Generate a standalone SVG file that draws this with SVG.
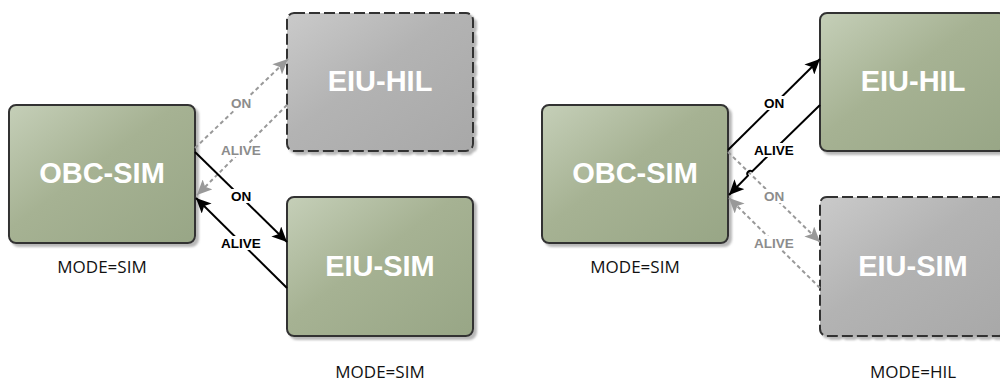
<svg xmlns="http://www.w3.org/2000/svg" width="1000" height="382" viewBox="0 0 1000 382">
  <style>
    .box { stroke: #333333; stroke-width: 2; }
    .active { fill: url(#greenFill); }
    .idle { fill: url(#grayFill); stroke-dasharray: 11 4; }
    .title { font-family: "Liberation Sans", Arial, sans-serif; font-weight: bold; font-size: 29px; fill: #ffffff; text-anchor: middle; }
    .mode { font-family: "Open Sans", "Liberation Sans", sans-serif; font-size: 17px; fill: #111111; text-anchor: middle; }
    .lbl { font-family: "Liberation Sans", Arial, sans-serif; font-weight: bold; font-size: 13.5px; text-anchor: middle; }
    .lbl.on { fill: #000000; }
    .lbl.off { fill: #8c8c8c; }
    .lblbg { fill: #ffffff; }
    .link { fill: none; stroke-width: 2; }
    .link.on { stroke: #000000; marker-end: url(#arrowBlack); }
    .link.off { stroke: #999999; stroke-dasharray: 4 3; marker-end: url(#arrowGray); }
  </style>
  <defs>
    <linearGradient id="greenFill" x1="0" y1="0" x2="1" y2="1">
      <stop offset="0" stop-color="#c5cfb8"/>
      <stop offset="0.45" stop-color="#a6b293"/>
      <stop offset="1" stop-color="#98a686"/>
    </linearGradient>
    <linearGradient id="grayFill" x1="0" y1="0" x2="1" y2="1">
      <stop offset="0" stop-color="#cacaca"/>
      <stop offset="0.45" stop-color="#b3b3b3"/>
      <stop offset="1" stop-color="#a8a8a8"/>
    </linearGradient>
    <filter id="shadow" x="-5%" y="-5%" width="115%" height="115%">
      <feDropShadow dx="3" dy="3" stdDeviation="1.2" flood-color="#9a9a9a" flood-opacity="0.7"/>
    </filter>
    <marker id="arrowBlack" markerUnits="userSpaceOnUse" markerWidth="16" markerHeight="14" viewBox="0 0 16 14" refX="15" refY="7" orient="auto">
      <path d="M0,0 L15,7 L0,14 L3.5,7 z" fill="#000000"/>
    </marker>
    <marker id="arrowGray" markerUnits="userSpaceOnUse" markerWidth="16" markerHeight="14" viewBox="0 0 16 14" refX="15" refY="7" orient="auto">
      <path d="M0,0 L15,7 L0,14 L3.5,7 z" fill="#999999"/>
    </marker>
  </defs>

  <rect width="1000" height="382" fill="#ffffff"/>

  <!-- left scenario: OBC in SIM mode, EIU in SIM mode -->
  <g id="left-obc-sim">
    <rect class="box active" x="9" y="105" width="186" height="138" rx="7" filter="url(#shadow)"/>
    <text class="title" x="102" y="183">OBC-SIM</text>
    <text class="mode" x="102" y="273">MODE=SIM</text>
  </g>
  <g id="left-eiu-hil">
    <rect class="box idle" x="287" y="13" width="186" height="138" rx="7" filter="url(#shadow)"/>
    <text class="title" x="380" y="91">EIU-HIL</text>
  </g>
  <g id="left-eiu-sim">
    <rect class="box active" x="287" y="197" width="186" height="139" rx="7" filter="url(#shadow)"/>
    <text class="title" x="380" y="276">EIU-SIM</text>
    <text class="mode" x="380" y="378">MODE=SIM</text>
  </g>

  <!-- right scenario: OBC in SIM mode, EIU in HIL mode -->
  <g id="right-obc-sim">
    <rect class="box active" x="542" y="105" width="186" height="138" rx="7" filter="url(#shadow)"/>
    <text class="title" x="635" y="183">OBC-SIM</text>
    <text class="mode" x="635" y="273">MODE=SIM</text>
  </g>
  <g id="right-eiu-hil">
    <rect class="box active" x="820" y="13" width="186" height="138" rx="7" filter="url(#shadow)"/>
    <text class="title" x="913" y="91">EIU-HIL</text>
  </g>
  <g id="right-eiu-sim">
    <rect class="box idle" x="820" y="197" width="186" height="139" rx="7" filter="url(#shadow)"/>
    <text class="title" x="913" y="276">EIU-SIM</text>
    <text class="mode" x="913" y="378">MODE=HIL</text>
  </g>

  <g id="connectors">
    <!-- left: inactive HIL link -->
    <path class="link off" d="M195,148 L288,59"/>
    <path class="link off" d="M287,105 L197,195"/>
    <!-- left: active SIM link -->
    <path class="link on" d="M195,152 L287,242"/>
    <path class="link on" d="M287,288 L196,198"/>

    <!-- right: active HIL link, with a hop over the dashed line -->
    <path class="link on" d="M728,150 L820,59"/>
    <path class="link off" d="M728,152 L820,242"/>
    <path class="link off" d="M820,288 L729,198"/>
    <path class="link on" d="M820,105 L752.1,171.4 A3,3 0 0 0 747.9,175.6 L729,195"/>

    <!-- labels on white backing so the lines break behind them -->
    <rect class="lblbg" x="229" y="96" width="24" height="14"/>
    <text class="lbl off" x="241" y="108">ON</text>
    <rect class="lblbg" x="221" y="143" width="40" height="14"/>
    <text class="lbl off" x="241" y="155">ALIVE</text>
    <rect class="lblbg" x="229" y="189" width="24" height="14"/>
    <text class="lbl on" x="241" y="201">ON</text>
    <rect class="lblbg" x="221" y="236" width="40" height="14"/>
    <text class="lbl on" x="241" y="248">ALIVE</text>

    <rect class="lblbg" x="762" y="96" width="24" height="14"/>
    <text class="lbl on" x="774" y="108">ON</text>
    <rect class="lblbg" x="754" y="143" width="40" height="14"/>
    <text class="lbl on" x="774" y="155">ALIVE</text>
    <rect class="lblbg" x="762" y="189" width="24" height="14"/>
    <text class="lbl off" x="774" y="201">ON</text>
    <rect class="lblbg" x="754" y="236" width="40" height="14"/>
    <text class="lbl off" x="774" y="248">ALIVE</text>
  </g>
</svg>
